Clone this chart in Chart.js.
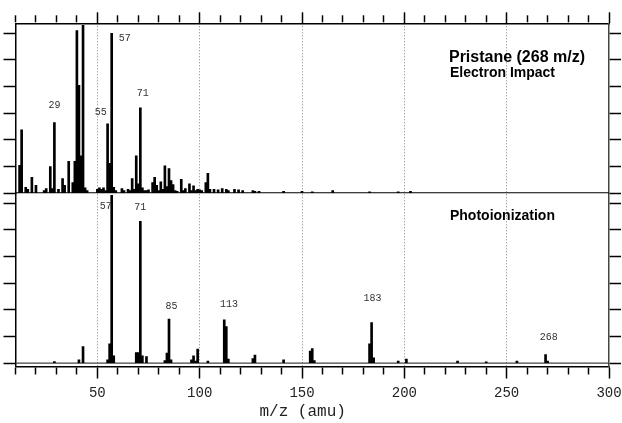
<!DOCTYPE html>
<html>
<head>
<meta charset="utf-8">
<script src="https://cdn.jsdelivr.net/npm/chart.js@4.4.0/dist/chart.umd.min.js"></script>
<style>
body { margin: 0; background: #fff; }
canvas { display: block; }
</style>
</head>
<body>
<canvas id="myChart" width="622" height="423"></canvas>
<script>
let mzMin = 10;
let mzMax = 300;

// Electron impact (top panel)
let eiMass = [12, 13, 15, 16, 18, 20, 24, 25, 27, 28, 29, 31, 33, 34, 36, 38, 39, 40, 41, 42,
    43, 44, 45, 50, 51, 52, 53, 54, 55, 56, 57, 58, 59, 62, 63, 65, 66, 67, 68, 69,
    70, 71, 72, 73, 74, 75, 77, 78, 79, 80, 81, 82, 83, 84, 85, 86, 87, 88, 89, 91,
    92, 93, 95, 96, 97, 98, 99, 100, 101, 103, 104, 105, 107, 109, 111, 113, 114, 117, 119, 121,
    126, 127, 129, 141, 150, 155, 165, 183, 197, 203];
let eiIntensity = [21, 47.5, 4.5, 3, 12, 6, 2, 3.5, 20, 3.5, 53, 3, 11, 6, 24, 8, 24, 122, 81, 28,
    126, 4, 2, 3, 4, 3, 4, 2, 52, 22.5, 120, 4.5, 2, 3.5, 2, 3, 2, 11, 3, 28,
    7, 64, 4, 2, 2, 2.5, 8, 12, 6, 2, 8.5, 3, 20.5, 5, 18.5, 9.5, 6.5, 2, 1.5, 10.5,
    2, 3.5, 7, 2, 5.5, 2, 3, 2.5, 2, 8, 15, 3, 3, 2.5, 3.5, 3, 2, 3, 2.5, 2,
    2, 1.5, 1.5, 1.5, 1.5, 1, 2, 1, 1, 1.5];

// Photoionization (bottom panel)
let piMass = [29, 41, 43, 55, 56, 57, 58, 69, 70, 71, 72, 74, 83, 84, 85, 86, 96, 97, 98, 99,
    104, 112, 113, 114, 126, 127, 141, 154, 155, 156, 183, 184, 185, 197, 201, 226, 240, 255, 269, 270];
let piIntensity = [1.2, 2.5, 12.5, 2.5, 14.5, 126, 5.5, 8, 8, 106.5, 5.5, 5, 2, 7.5, 33, 2.5, 2.5, 5.5, 1.5, 10.5,
    1.5, 32.5, 27.5, 3, 3.5, 6, 2.5, 9, 11, 2, 14.5, 30.5, 4, 1.5, 3, 1.5, 1, 1.5, 6.5, 1.5];

let xTickLabels = ['50', '100', '150', '200', '250', '300'];

let annotations = [
    { text: 'Pristane (268 m/z)', x: 221.8, y: 101.5, axis: 'yTop', align: 'left', font: 'bold 16px "Liberation Sans", Arial', color: '#000' },
    { text: 'Electron Impact', x: 222.3, y: 90, axis: 'yTop', align: 'left', font: 'bold 14px "Liberation Sans", Arial', color: '#000' },
    { text: 'Photoionization', x: 222.3, y: 110.5, axis: 'yBot', align: 'left', font: 'bold 14px "Liberation Sans", Arial', color: '#000' },
    { text: '29', x: 29.0, y: 66.2, axis: 'yTop' },
    { text: '55', x: 51.7, y: 60.5, axis: 'yTop' },
    { text: '57', x: 63.4, y: 116.3, axis: 'yTop' },
    { text: '71', x: 72.2, y: 75, axis: 'yTop' },
    { text: '57', x: 54.1, y: 117.5, axis: 'yBot' },
    { text: '71', x: 71.0, y: 117, axis: 'yBot' },
    { text: '85', x: 86.2, y: 42.5, axis: 'yBot' },
    { text: '113', x: 114.3, y: 44, axis: 'yBot' },
    { text: '183', x: 184.4, y: 48.5, axis: 'yBot' },
    { text: '268', x: 270.6, y: 19.2, axis: 'yBot' }
];

function toPoints(xs, ys) {
    return xs.map((m, i) => ({ x: m, y: ys[i] }));
}

function isMajor(v) {
    return v % 50 === 0;
}

let labelPlugin = {
    id: 'peakLabels',
    afterDatasetsDraw(chart) {
        let ctx = chart.ctx;
        let xScale = chart.scales.x;
        annotations.forEach((a) => {
            let yScale = chart.scales[a.axis];
            ctx.save();
            ctx.font = a.font || '10px "Liberation Mono", monospace';
            ctx.fillStyle = a.color || '#333';
            ctx.textAlign = a.align || 'center';
            ctx.textBaseline = 'middle';
            ctx.fillText(a.text, xScale.getPixelForValue(a.x), yScale.getPixelForValue(a.y));
            ctx.restore();
        });
    }
};

let yTicks = { display: false, stepSize: 20, includeBounds: false, autoSkip: false };
let yGrid = { drawOnChartArea: false, tickLength: 12, tickColor: '#000', tickWidth: 1.5 };

let ctx = document.getElementById('myChart');

let myChart = new Chart(ctx, {
    type: 'bar',
    data: {
        datasets: [{
            label: 'Electron Impact',
            data: toPoints(eiMass, eiIntensity),
            xAxisID: 'x',
            yAxisID: 'yTop',
            backgroundColor: '#000',
            barThickness: 2,
            grouped: false
        }, {
            label: 'Photoionization',
            data: toPoints(piMass, piIntensity),
            xAxisID: 'x',
            yAxisID: 'yBot',
            backgroundColor: '#000',
            barThickness: 2,
            grouped: false
        }, {
            type: 'line',
            label: 'EI baseline',
            data: [{ x: mzMin, y: 0 }, { x: mzMax, y: 0 }],
            xAxisID: 'x',
            yAxisID: 'yTop',
            borderColor: '#000',
            borderWidth: 2,
            pointRadius: 0
        }, {
            type: 'line',
            label: 'PI baseline',
            data: [{ x: mzMin, y: 0 }, { x: mzMax, y: 0 }],
            xAxisID: 'x',
            yAxisID: 'yBot',
            borderColor: '#444',
            borderWidth: 1.2,
            pointRadius: 0
        }]
    },
    options: {
        responsive: false,
        devicePixelRatio: 1,
        animation: false,
        layout: { padding: 0 },
        scales: {
            x: {
                type: 'linear',
                position: 'bottom',
                min: mzMin,
                max: mzMax,
                offset: false,
                ticks: {
                    stepSize: 10,
                    autoSkip: false,
                    maxRotation: 0,
                    includeBounds: false,
                    padding: 6,
                    color: '#222',
                    font: { family: 'Liberation Mono', size: 14 },
                    callback: (v) => xTickLabels.includes(String(v)) ? String(v) : ''
                },
                grid: {
                    offset: false,
                    color: (c) => (c.tick && isMajor(c.tick.value) && c.tick.value > mzMin && c.tick.value < mzMax) ? '#808080' : 'rgba(0,0,0,0)',
                    lineWidth: 1,
                    tickColor: '#000',
                    tickWidth: 1.5,
                    tickLength: 12,
                    tickBorderDash: (c) => isMajor(c.tick.value) ? [] : [7, 50]
                },
                border: { color: '#000', width: 1.5, dash: [1, 2] },
                title: {
                    display: true,
                    text: 'm/z (amu)  ',
                    color: '#222',
                    font: { family: 'Liberation Mono', size: 16 },
                    padding: { top: 0, bottom: 2 }
                },
                afterFit: (s) => {
                    s.height = 56.5;
                    s.paddingLeft = 0;
                    s.paddingRight = 0;
                }
            },
            xTop: {
                type: 'linear',
                position: 'top',
                min: mzMin,
                max: mzMax,
                offset: false,
                ticks: { display: false, stepSize: 10, autoSkip: false, includeBounds: false },
                grid: {
                    offset: false,
                    drawOnChartArea: false,
                    tickColor: '#000',
                    tickWidth: 1.5,
                    tickLength: 11,
                    tickBorderDash: (c) => isMajor(c.tick.value) ? [] : [7, 50],
                    tickBorderDashOffset: (c) => isMajor(c.tick.value) ? 0 : 54
                },
                border: { color: '#000', width: 1.5 },
                afterFit: (s) => {
                    s.height = 23.3;
                    s.paddingLeft = 0;
                    s.paddingRight = 0;
                }
            },
            yBot: {
                type: 'linear',
                position: 'left',
                stack: 'left',
                stackWeight: 173.3,
                min: -2.5,
                max: 127.5,
                ticks: yTicks,
                grid: yGrid,
                border: { color: '#000', width: 1.5 },
                afterFit: (s) => { s.width = 15.5; }
            },
            yTop: {
                type: 'linear',
                position: 'left',
                stack: 'left',
                stackWeight: 170,
                min: 0,
                max: 127.5,
                ticks: yTicks,
                grid: yGrid,
                border: { color: '#000', width: 1.5 },
                afterFit: (s) => { s.width = 15.5; }
            },
            yTopR: {
                type: 'linear',
                position: 'right',
                stack: 'right',
                stackWeight: 170,
                min: 0,
                max: 127.5,
                ticks: yTicks,
                grid: yGrid,
                border: { color: '#444', width: 1.5 },
                afterFit: (s) => { s.width = 13; }
            },
            yBotR: {
                type: 'linear',
                position: 'right',
                stack: 'right',
                stackWeight: 173.3,
                min: -2.5,
                max: 127.5,
                ticks: yTicks,
                grid: yGrid,
                border: { color: '#444', width: 1.5 },
                afterFit: (s) => { s.width = 13; }
            }
        },
        plugins: {
            legend: { display: false },
            tooltip: { enabled: false }
        }
    },
    plugins: [labelPlugin]
});
</script>
</body>
</html>
